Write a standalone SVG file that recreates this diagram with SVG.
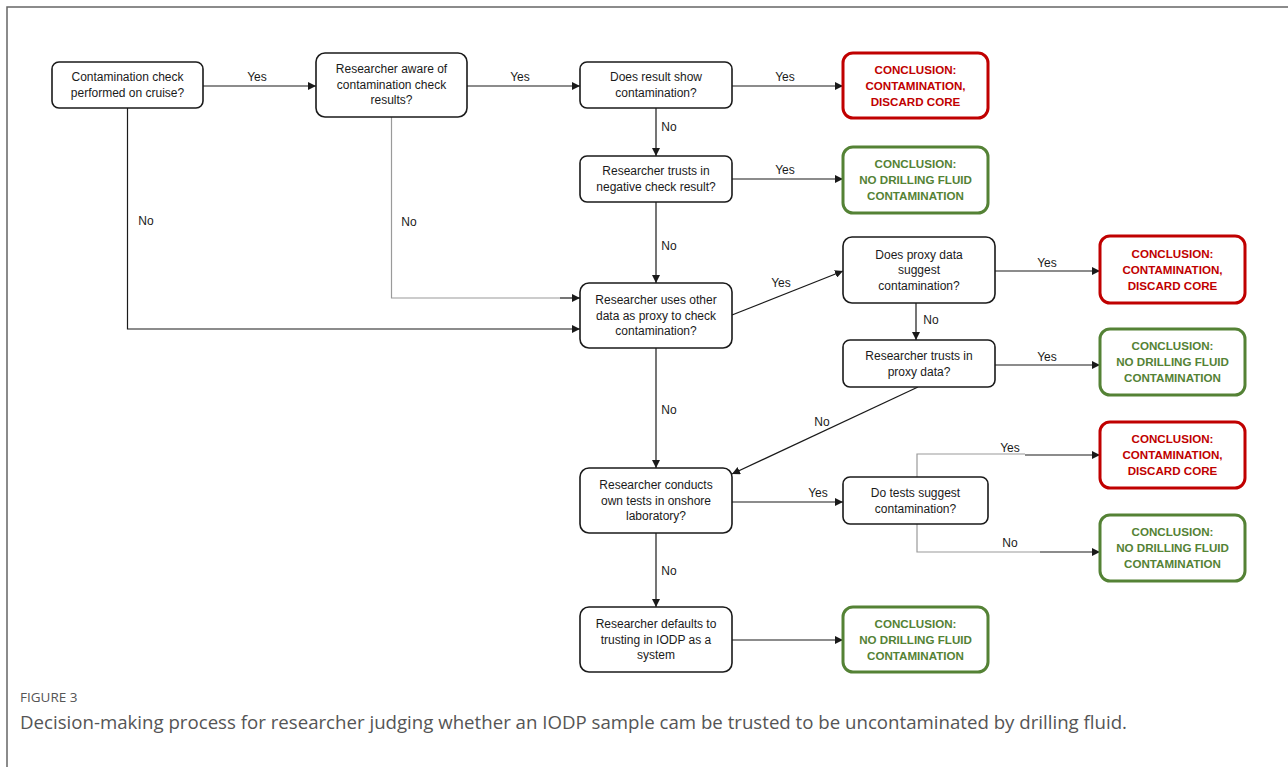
<svg xmlns="http://www.w3.org/2000/svg" width="1288" height="767" viewBox="0 0 1288 767">
<style>
.box{fill:#fff;stroke:#1a1a1a;stroke-width:1.6}
.red{fill:#fff;stroke:#c00000;stroke-width:3}
.green{fill:#fff;stroke:#548235;stroke-width:3}
.t{font-family:"Liberation Sans",Arial,sans-serif;font-size:12px;fill:#1a1a1a;text-anchor:middle}
.ct{font-family:"Liberation Sans",Arial,sans-serif;font-size:11.6px;font-weight:bold;text-anchor:middle}
.rt{fill:#c00000}
.gt{fill:#548235}
.lbl{font-family:"Liberation Sans",Arial,sans-serif;font-size:12px;fill:#1a1a1a;text-anchor:middle}
.c{fill:none;stroke:#1a1a1a;stroke-width:1.2}
.cg{fill:none;stroke:#9a9a9a;stroke-width:1.2}
.cap1{font-family:"Open Sans","Liberation Sans",sans-serif;font-size:13.5px;fill:#555}
.cap2{font-family:"Open Sans","Liberation Sans",sans-serif;font-size:18px;fill:#555}
</style>
<defs>
<marker id="ah" viewBox="0 0 10 10" refX="10" refY="5" markerWidth="8" markerHeight="8" markerUnits="userSpaceOnUse" orient="auto">
<path d="M0,0 L10,5 L0,10 z" fill="#1a1a1a"/>
</marker>
</defs>
<rect x="0" y="0" width="1288" height="767" fill="#fff"/>
<path d="M7,767 L7,7 L1288,7" fill="none" stroke="#666" stroke-width="1.5"/>

<g id="connectors">
<line class="c" x1="203" y1="86" x2="316" y2="86" marker-end="url(#ah)"/>
<line class="c" x1="467" y1="86" x2="580" y2="86" marker-end="url(#ah)"/>
<line class="c" x1="732" y1="86" x2="843" y2="86" marker-end="url(#ah)"/>
<line class="c" x1="656" y1="108" x2="656" y2="156" marker-end="url(#ah)"/>
<line class="c" x1="732" y1="179" x2="843" y2="179" marker-end="url(#ah)"/>
<line class="c" x1="656" y1="202" x2="656" y2="283" marker-end="url(#ah)"/>
<polyline class="c" points="127.5,108 127.5,329 580,329" marker-end="url(#ah)"/>
<polyline class="cg" points="391.5,117 391.5,298 560,298"/>
<line class="c" x1="560" y1="298" x2="580" y2="298" marker-end="url(#ah)"/>
<line class="c" x1="732" y1="315" x2="843" y2="271" marker-end="url(#ah)"/>
<line class="c" x1="995" y1="271" x2="1100" y2="271" marker-end="url(#ah)"/>
<line class="c" x1="916" y1="303" x2="916" y2="340" marker-end="url(#ah)"/>
<line class="c" x1="995" y1="365" x2="1100" y2="365" marker-end="url(#ah)"/>
<line class="c" x1="918" y1="387" x2="732" y2="474" marker-end="url(#ah)"/>
<line class="c" x1="656" y1="348" x2="656" y2="468" marker-end="url(#ah)"/>
<line class="c" x1="732" y1="502" x2="843" y2="502" marker-end="url(#ah)"/>
<polyline class="cg" points="917,477 917,454 1025,454"/>
<line class="c" x1="1025" y1="455" x2="1100" y2="455" marker-end="url(#ah)"/>
<polyline class="cg" points="917,524 917,552 1040,552"/>
<line class="c" x1="1040" y1="552" x2="1100" y2="552" marker-end="url(#ah)"/>
<line class="c" x1="656" y1="533" x2="656" y2="607" marker-end="url(#ah)"/>
<line class="c" x1="732" y1="640" x2="843" y2="640" marker-end="url(#ah)"/>
<text class="lbl" x="257" y="81">Yes</text>
<text class="lbl" x="520" y="81">Yes</text>
<text class="lbl" x="785" y="81">Yes</text>
<text class="lbl" x="669" y="131">No</text>
<text class="lbl" x="785" y="174">Yes</text>
<text class="lbl" x="669" y="250">No</text>
<text class="lbl" x="146" y="225">No</text>
<text class="lbl" x="409" y="226">No</text>
<text class="lbl" x="781" y="287">Yes</text>
<text class="lbl" x="1047" y="267">Yes</text>
<text class="lbl" x="931" y="324">No</text>
<text class="lbl" x="1047" y="361">Yes</text>
<text class="lbl" x="822" y="426">No</text>
<text class="lbl" x="669" y="414">No</text>
<text class="lbl" x="818" y="497">Yes</text>
<text class="lbl" x="1010" y="452">Yes</text>
<text class="lbl" x="1010" y="547">No</text>
<text class="lbl" x="669" y="575">No</text>
</g>

<g id="n1"><rect class="box" x="52" y="62" width="151" height="46" rx="7"/>
<text class="t" x="127.5" y="81">Contamination check<tspan x="127.5" dy="15.5">performed on cruise?</tspan></text></g>

<g id="n2"><rect class="box" x="316" y="53" width="151" height="64" rx="9"/>
<text class="t" x="391.5" y="73">Researcher aware of<tspan x="391.5" dy="15.5">contamination check</tspan><tspan x="391.5" dy="15.5">results?</tspan></text></g>

<g id="n3"><rect class="box" x="580" y="62" width="152" height="46" rx="7"/>
<text class="t" x="656" y="81">Does result show<tspan x="656" dy="15.5">contamination?</tspan></text></g>

<g id="c1"><rect class="red" x="843" y="53" width="145" height="65" rx="10"/>
<text class="ct rt" x="915.5" y="73.5">CONCLUSION:<tspan x="915.5" dy="16">CONTAMINATION,</tspan><tspan x="915.5" dy="16">DISCARD CORE</tspan></text></g>

<g id="n4"><rect class="box" x="580" y="156" width="152" height="46" rx="7"/>
<text class="t" x="656" y="175">Researcher trusts in<tspan x="656" dy="15.5">negative check result?</tspan></text></g>

<g id="c2"><rect class="green" x="843" y="147" width="145" height="66" rx="10"/>
<text class="ct gt" x="915.5" y="168">CONCLUSION:<tspan x="915.5" dy="16">NO DRILLING FLUID</tspan><tspan x="915.5" dy="16">CONTAMINATION</tspan></text></g>

<g id="n5"><rect class="box" x="580" y="283" width="152" height="65" rx="9"/>
<text class="t" x="656" y="304">Researcher uses other<tspan x="656" dy="15.5">data as proxy to check</tspan><tspan x="656" dy="15.5">contamination?</tspan></text></g>

<g id="n6"><rect class="box" x="843" y="237" width="152" height="66" rx="9"/>
<text class="t" x="919" y="258.5">Does proxy data<tspan x="919" dy="15.5">suggest</tspan><tspan x="919" dy="15.5">contamination?</tspan></text></g>

<g id="c3"><rect class="red" x="1100" y="236" width="145" height="67" rx="10"/>
<text class="ct rt" x="1172.5" y="257.5">CONCLUSION:<tspan x="1172.5" dy="16">CONTAMINATION,</tspan><tspan x="1172.5" dy="16">DISCARD CORE</tspan></text></g>

<g id="n7"><rect class="box" x="843" y="340" width="152" height="47" rx="7"/>
<text class="t" x="919" y="360">Researcher trusts in<tspan x="919" dy="15.5">proxy data?</tspan></text></g>

<g id="c4"><rect class="green" x="1100" y="329" width="145" height="66" rx="10"/>
<text class="ct gt" x="1172.5" y="350">CONCLUSION:<tspan x="1172.5" dy="16">NO DRILLING FLUID</tspan><tspan x="1172.5" dy="16">CONTAMINATION</tspan></text></g>

<g id="n8"><rect class="box" x="580" y="468" width="152" height="65" rx="9"/>
<text class="t" x="656" y="489">Researcher conducts<tspan x="656" dy="15.5">own tests in onshore</tspan><tspan x="656" dy="15.5">laboratory?</tspan></text></g>

<g id="n9"><rect class="box" x="843" y="477" width="145" height="47" rx="7"/>
<text class="t" x="915.5" y="497">Do tests suggest<tspan x="915.5" dy="15.5">contamination?</tspan></text></g>

<g id="c5"><rect class="red" x="1100" y="422" width="145" height="66" rx="10"/>
<text class="ct rt" x="1172.5" y="443">CONCLUSION:<tspan x="1172.5" dy="16">CONTAMINATION,</tspan><tspan x="1172.5" dy="16">DISCARD CORE</tspan></text></g>

<g id="c6"><rect class="green" x="1100" y="515" width="145" height="66" rx="10"/>
<text class="ct gt" x="1172.5" y="536">CONCLUSION:<tspan x="1172.5" dy="16">NO DRILLING FLUID</tspan><tspan x="1172.5" dy="16">CONTAMINATION</tspan></text></g>

<g id="n10"><rect class="box" x="580" y="607" width="152" height="65" rx="9"/>
<text class="t" x="656" y="628">Researcher defaults to<tspan x="656" dy="15.5">trusting in IODP as a</tspan><tspan x="656" dy="15.5">system</tspan></text></g>

<g id="c7"><rect class="green" x="843" y="607" width="145" height="65" rx="10"/>
<text class="ct gt" x="915.5" y="628">CONCLUSION:<tspan x="915.5" dy="16">NO DRILLING FLUID</tspan><tspan x="915.5" dy="16">CONTAMINATION</tspan></text></g>

<g id="caption">
<text class="cap1" x="20" y="702">FIGURE 3</text>
<text class="cap2" x="20" y="729" textLength="1107" lengthAdjust="spacingAndGlyphs">Decision-making process for researcher judging whether an IODP sample cam be trusted to be uncontaminated by drilling fluid.</text>
</g>
</svg>
